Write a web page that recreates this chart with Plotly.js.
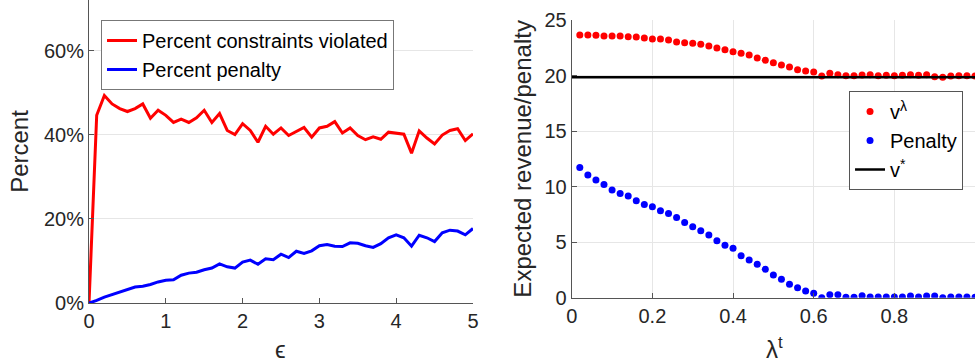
<!DOCTYPE html>
<html>
<head>
<meta charset="utf-8">
<script src="https://cdn.plot.ly/plotly-3.0.1.min.js"></script>
<style>html,body{margin:0;padding:0;background:#fff;}#chart{width:975px;height:364px;}</style>
</head>
<body>
<div id="chart"></div>
<script>
// Left panel: epsilon vs percent
const epsilon = [0,0.1,0.2,0.3,0.4,0.5,0.6,0.7,0.8,0.9,1.0,1.1,1.2,1.3,1.4,1.5,1.6,1.7,1.8,1.9,2.0,2.1,2.2,2.3,2.4,2.5,2.6,2.7,2.8,2.9,3.0,3.1,3.2,3.3,3.4,3.5,3.6,3.7,3.8,3.9,4.0,4.1,4.2,4.3,4.4,4.5,4.6,4.7,4.8,4.9,5.0];
const pctViolated = [0,44.6,49.3,47.3,46.2,45.5,46.2,47.3,43.9,45.8,44.6,42.9,43.7,42.9,44.0,45.8,42.9,45.0,41.0,40.0,42.6,41.0,38.2,42.0,40.1,41.6,39.8,40.8,41.7,39.4,41.6,42.0,43.1,40.4,41.6,39.8,38.8,39.5,38.9,40.6,40.3,40.1,35.6,40.9,39.2,37.8,39.9,41.0,41.4,38.6,40.2];
const pctPenalty = [0,0.6,1.4,2.0,2.5,3.2,3.8,4.0,4.4,5.0,5.4,5.5,6.6,7.1,7.3,7.9,8.3,9.3,8.6,8.3,9.7,10.2,9.2,10.5,10.3,11.6,10.8,12.3,11.8,12.4,13.6,13.9,13.5,13.4,14.3,14.2,13.6,13.2,14.1,15.5,16.2,15.5,13.5,16.1,15.5,14.6,16.7,17.3,17.1,16.2,17.7];
const leftXTicks = [0,1,2,3,4,5];
const leftYTicks = [0,20,40,60];
const leftYTickText = ['0%','20%','40%','60%'];

// Right panel: lambda^t vs expected revenue / penalty
const lambdaT = [0.02,0.04,0.06,0.08,0.10,0.12,0.14,0.16,0.18,0.20,0.22,0.24,0.26,0.28,0.30,0.32,0.34,0.36,0.38,0.40,0.42,0.44,0.46,0.48,0.50,0.52,0.54,0.56,0.58,0.60,0.62,0.64,0.66,0.68,0.70,0.72,0.74,0.76,0.78,0.80,0.82,0.84,0.86,0.88,0.90,0.92,0.94,0.96,0.98,1.00];
const vLambda = [23.65,23.65,23.62,23.56,23.56,23.56,23.5,23.47,23.38,23.29,23.29,23.2,23.02,22.96,22.9,22.81,22.66,22.48,22.33,22.15,22.0,21.85,21.58,21.37,21.16,20.95,20.77,20.53,20.41,20.32,19.96,20.2,20.08,19.99,19.99,20.05,20.08,19.99,20.02,19.99,20.02,20.08,20.02,20.08,19.9,19.84,19.96,19.99,19.99,19.96];
const penalty = [11.73,11.04,10.59,10.2,9.69,9.39,9.15,8.73,8.4,8.19,7.83,7.59,7.23,6.78,6.39,6.03,5.64,5.13,4.71,4.44,3.78,3.39,3.0,2.55,2.04,1.65,1.2,0.9,0.6,0.39,0.0,0.27,0.27,0.03,0.03,0.18,0.06,0.06,0.06,0.06,0.06,0.15,0.06,0.15,0.15,0.0,0.06,0.06,0.06,0.03];
const vStarX = [0,1];
const vStarY = [19.85,19.85];
const rightXTicks = [0,0.2,0.4,0.6,0.8,1];
const rightYTicks = [0,5,10,15,20,25];

const FONT = 'Liberation Sans, Arial, sans-serif';
const TXT = '#262626';
const AX = '#555555';
const GRID = '#e6e6e6';

const traces = [
  {x: epsilon, y: pctViolated, type: 'scatter', mode: 'lines', name: 'Percent constraints violated',
   line: {color: '#ff0000', width: 3}, xaxis: 'x', yaxis: 'y', legend: 'legend'},
  {x: epsilon, y: pctPenalty, type: 'scatter', mode: 'lines', name: 'Percent penalty',
   line: {color: '#0000ff', width: 3}, xaxis: 'x', yaxis: 'y', legend: 'legend'},
  {x: lambdaT, y: vLambda, type: 'scatter', mode: 'markers', name: 'v<sup>λ</sup>',
   marker: {color: '#ff0000', size: 7}, xaxis: 'x2', yaxis: 'y2', legend: 'legend2'},
  {x: lambdaT, y: penalty, type: 'scatter', mode: 'markers', name: 'Penalty',
   marker: {color: '#0000ff', size: 7}, xaxis: 'x2', yaxis: 'y2', legend: 'legend2'},
  {x: vStarX, y: vStarY, type: 'scatter', mode: 'lines', name: 'v<sup>*</sup>',
   line: {color: '#000000', width: 2.5}, xaxis: 'x2', yaxis: 'y2', legend: 'legend2'}
];

const axBase = {
  showline: true, linecolor: AX, linewidth: 1, ticks: 'inside', ticklen: 5, tickcolor: AX,
  tickfont: {family: FONT, size: 20, color: TXT}, zeroline: false, mirror: false
};

const layout = {
  width: 975, height: 364,
  margin: {l: 0, r: 0, t: 0, b: 0},
  paper_bgcolor: '#ffffff', plot_bgcolor: '#ffffff',
  font: {family: FONT, color: TXT},
  xaxis: Object.assign({}, axBase, {
    domain: [0.0913, 0.4851], range: [0, 5], tickmode: 'array', tickvals: leftXTicks, showgrid: false,
    anchor: 'y'
  }),
  yaxis: Object.assign({}, axBase, {
    domain: [0.1676, 1.0], range: [0, 72], tickmode: 'array', tickvals: leftYTicks, ticktext: leftYTickText,
    showgrid: true, gridcolor: GRID, anchor: 'x',
    title: {text: 'Percent', font: {family: FONT, size: 24, color: TXT}, standoff: 8}
  }),
  xaxis2: Object.assign({}, axBase, {
    domain: [0.5864, 1.0], range: [0, 1], tickmode: 'array', tickvals: rightXTicks, showgrid: true, gridcolor: GRID,
    anchor: 'y2'
  }),
  yaxis2: Object.assign({}, axBase, {
    domain: [0.1822, 0.945], range: [0, 25], tickmode: 'array', tickvals: rightYTicks, showgrid: true, gridcolor: GRID,
    anchor: 'x2',
    title: {text: 'Expected revenue/penalty', font: {family: FONT, size: 24, color: TXT}, standoff: 6}
  }),
  annotations: [
    {text: 'ϵ', xref: 'paper', yref: 'paper', x: 0.2882, y: 0.0, xanchor: 'center', yanchor: 'bottom',
     showarrow: false, borderpad: 0, font: {family: FONT, size: 24, color: TXT}},
    {text: 'λ<sup>t</sup>', xref: 'paper', yref: 'paper', x: 0.7943, y: 0.0, xanchor: 'center', yanchor: 'bottom',
     showarrow: false, borderpad: 0, font: {family: FONT, size: 24, color: TXT}}
  ],
  legend: {
    x: 0.1036, y: 0.945, xanchor: 'left', yanchor: 'top',
    bgcolor: '#ffffff', bordercolor: '#777777', borderwidth: 1,
    font: {family: FONT, size: 20, color: '#000000'}, tracegroupgap: 0
  },
  legend2: {
    x: 0.8708, y: 0.75, xanchor: 'left', yanchor: 'top',
    bgcolor: '#ffffff', bordercolor: '#555555', borderwidth: 1,
    font: {family: FONT, size: 20, color: '#000000'}, tracegroupgap: 0
  },
  showlegend: true
};

Plotly.newPlot('chart', traces, layout, {displayModeBar: false, staticPlot: true});
</script>
</body>
</html>
